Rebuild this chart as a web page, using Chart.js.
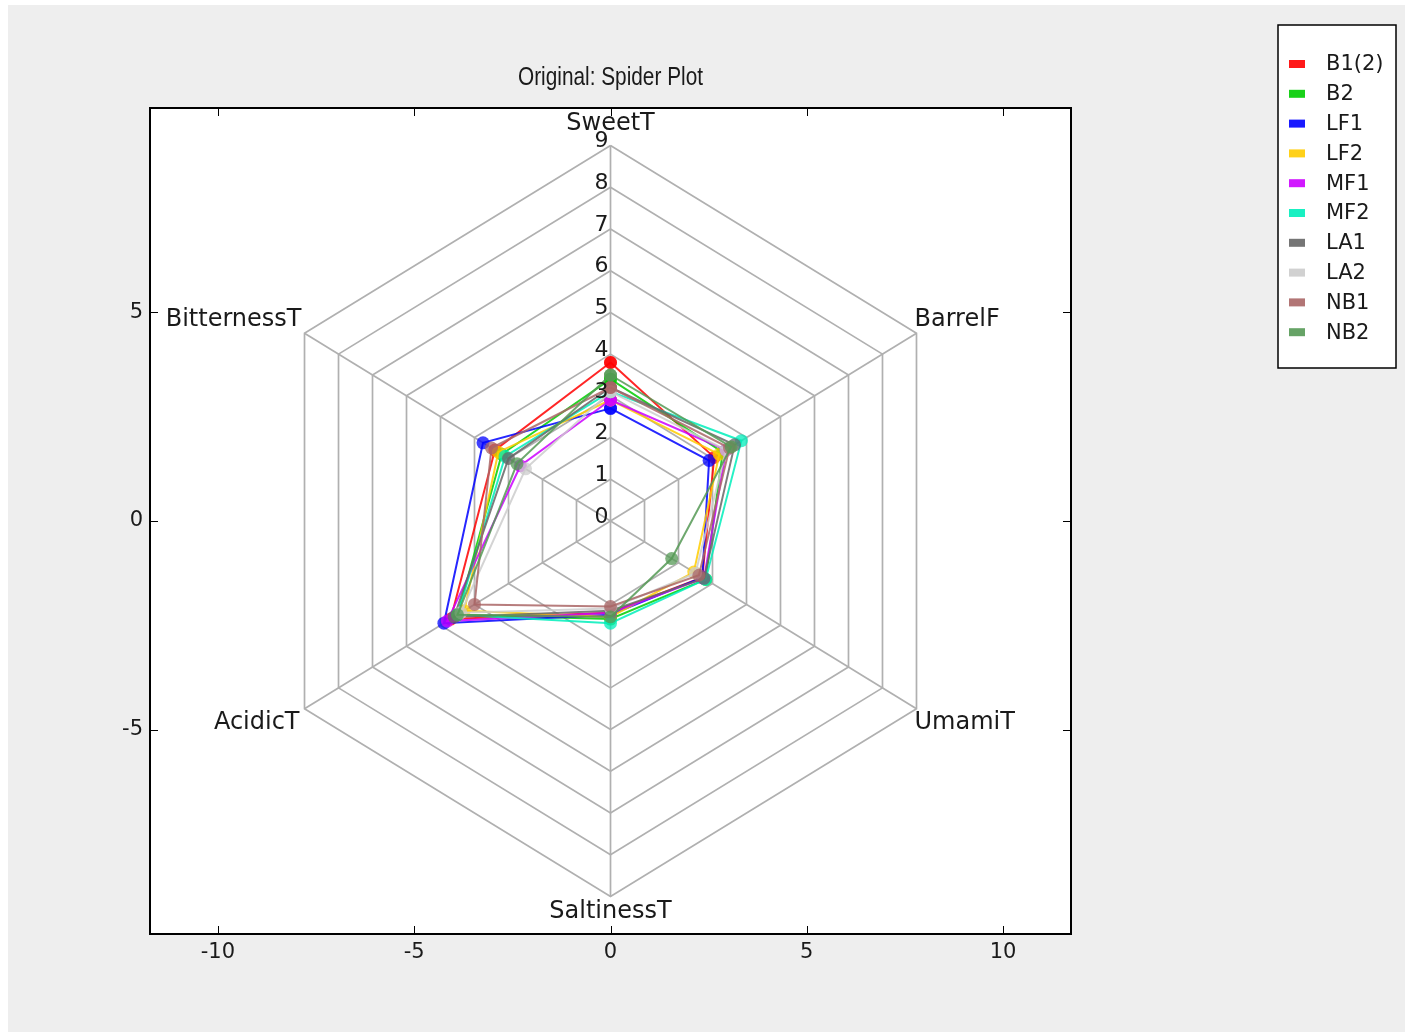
<!DOCTYPE html>
<html>
<head>
<meta charset="utf-8">
<title>Original: Spider Plot</title>
<script src="https://cdn.jsdelivr.net/npm/chart.js@4/dist/chart.umd.min.js"></script>
<style>
  html, body { margin: 0; padding: 0; background: #ffffff; }
  #wrap { position: absolute; left: 8px; top: 5px; width: 1397px; height: 1027px; background: #eeeeee; }
</style>
</head>
<body>
<div id="wrap"><canvas id="chart"></canvas></div>
<script>
// Taste attributes, one spoke each, clockwise from the top
const categories = ['SweetT', 'BarrelF', 'UmamiT', 'SaltinessT', 'AcidicT', 'BitternessT'];

// Panel scores per sample, in the same order as the categories
const b1_2 = [3.8, 3.05, 2.7, 2.2, 4.7, 3.4];
const b2   = [3.4, 3.3, 2.8, 2.35, 4.5, 3.2];
const lf1  = [2.7, 2.9, 2.7, 2.25, 4.9, 3.75];
const lf2  = [2.9, 3.2, 2.45, 2.3, 4.3, 3.3];
const mf1  = [2.9, 3.4, 2.75, 2.2, 4.8, 2.65];
const mf2  = [3.1, 3.85, 2.8, 2.45, 4.5, 3.1];
const la1  = [3.2, 3.65, 2.75, 2.15, 4.6, 3.0];
const la2  = [3.1, 3.4, 2.5, 2.1, 4.4, 2.5];
const nb1  = [3.2, 3.5, 2.6, 2.05, 4.0, 3.5];
const nb2  = [3.5, 3.55, 1.8, 2.3, 4.5, 2.75];

const seriesNames  = ['B1(2)', 'B2', 'LF1', 'LF2', 'MF1', 'MF2', 'LA1', 'LA2', 'NB1', 'NB2'];
const seriesValues = [b1_2, b2, lf1, lf2, mf1, mf2, la1, la2, nb1, nb2];
const seriesColors = ['255,0,0', '0,204,0', '0,0,255', '255,204,0', '204,0,255',
                      '0,238,187', '102,102,102', '204,204,204', '170,102,102', '85,153,85'];

// Ring levels of the web and the cartesian tick values
const ringLevels = [0, 1, 2, 3, 4, 5, 6, 7, 8, 9];
const xTicks = [-10, -5, 0, 5, 10];
const yTicks = [-5, 0, 5];

const maxRing = ringLevels[ringLevels.length - 1];
const FONT = '"DejaVu Sans", Verdana, sans-serif';

// spoke k points at 90 degrees minus k*60 degrees
function spokeAngle(k) { return (90 - k * 360 / categories.length) * Math.PI / 180; }
function toXY(r, k) { return { x: r * Math.cos(spokeAngle(k)), y: r * Math.sin(spokeAngle(k)) }; }
function ring(vals) {
  const pts = vals.map((r, k) => toXY(r, k));
  pts.push(pts[0]);
  return pts;
}

const datasets = [];

// web: hexagons and spokes
ringLevels.filter(l => l > 0).forEach(l => {
  datasets.push({
    label: '_ring' + l, data: ring(categories.map(() => l)), showLine: true,
    borderColor: '#b0b0b0', borderWidth: 1.7, pointRadius: 0, order: 100
  });
});
categories.forEach((c, k) => {
  datasets.push({
    label: '_spoke' + c, data: [toXY(0, k), toXY(maxRing, k)], showLine: true,
    borderColor: '#b0b0b0', borderWidth: 1.7, pointRadius: 0, order: 100
  });
});

// sample polygons
seriesNames.forEach((name, i) => {
  datasets.push({
    label: name, data: ring(seriesValues[i]), showLine: true,
    borderColor: 'rgba(' + seriesColors[i] + ',0.85)', borderWidth: 2,
    backgroundColor: 'rgba(' + seriesColors[i] + ',0.75)',
    pointRadius: 6.5, pointBorderWidth: 0, pointHoverRadius: 6.5,
    order: seriesNames.length - i
  });
});

const decorations = {
  id: 'decorations',
  beforeDraw(chart) {
    const { ctx, chartArea: a } = chart;
    ctx.save();
    ctx.fillStyle = '#ffffff';
    ctx.fillRect(a.left, a.top, a.right - a.left, a.bottom - a.top);
    ctx.restore();
  },
  afterDatasetsDraw(chart) {
    const { ctx, scales: { x, y } } = chart;
    ctx.save();
    ctx.fillStyle = '#1a1a1a';
    ctx.font = '22px ' + FONT;
    ctx.textAlign = 'center';
    ctx.textBaseline = 'middle';
    // ring values along the top spoke
    ringLevels.forEach(l => {
      ctx.fillText(String(l), x.getPixelForValue(0) - 9, y.getPixelForValue(l) - 4);
    });
    // attribute names at the outer ring
    const offs = [[0, -22, 'center'], [-2, -14, 'left'], [-2, 14, 'left'],
                  [0, 15, 'center'], [-5, 14, 'right'], [-3, -14, 'right']];
    ctx.font = '24px ' + FONT;
    categories.forEach((c, k) => {
      const p = toXY(maxRing, k);
      ctx.textAlign = offs[k][2];
      ctx.fillText(c, x.getPixelForValue(p.x) + offs[k][0], y.getPixelForValue(p.y) + offs[k][1]);
    });
    ctx.restore();
  },
  afterDraw(chart) {
    const { ctx, chartArea: a, scales: { x, y } } = chart;
    ctx.save();
    // frame
    ctx.strokeStyle = '#000000';
    ctx.lineWidth = 2;
    ctx.strokeRect(a.left, a.top, a.right - a.left, a.bottom - a.top);
    // inward tick marks on all four sides
    ctx.lineWidth = 1;
    ctx.beginPath();
    xTicks.forEach(v => {
      const px = Math.round(x.getPixelForValue(v)) + 0.5;
      ctx.moveTo(px, a.bottom); ctx.lineTo(px, a.bottom - 8);
      ctx.moveTo(px, a.top); ctx.lineTo(px, a.top + 8);
    });
    yTicks.forEach(v => {
      const py = Math.round(y.getPixelForValue(v)) + 0.5;
      ctx.moveTo(a.left, py); ctx.lineTo(a.left + 8, py);
      ctx.moveTo(a.right, py); ctx.lineTo(a.right - 8, py);
    });
    ctx.stroke();

    // title in a condensed face
    ctx.save();
    ctx.translate((a.left + a.right) / 2, a.top - 30);
    ctx.scale(0.8, 1);
    ctx.fillStyle = '#1a1a1a';
    ctx.font = '26px "Liberation Sans", Arial, sans-serif';
    ctx.textAlign = 'center';
    ctx.textBaseline = 'middle';
    ctx.fillText('Original: Spider Plot', 0, 0);
    ctx.restore();

    // legend box
    const lx = 1270, ly = 20, lw = 118, lh = 343;
    ctx.fillStyle = '#ffffff';
    ctx.fillRect(lx, ly, lw, lh);
    ctx.strokeStyle = '#000000';
    ctx.lineWidth = 1.5;
    ctx.strokeRect(lx, ly, lw, lh);
    ctx.font = '21px ' + FONT;
    ctx.textAlign = 'left';
    ctx.textBaseline = 'middle';
    seriesNames.forEach((name, i) => {
      const cy = ly + 39 + i * 29.8;
      ctx.fillStyle = 'rgba(' + seriesColors[i] + ',0.9)';
      ctx.fillRect(lx + 11, cy - 4, 16, 8);
      ctx.fillStyle = '#1a1a1a';
      ctx.fillText(name, lx + 48, cy + 1);
    });
    ctx.restore();
  }
};

new Chart(document.getElementById('chart'), {
  type: 'scatter',
  data: { datasets },
  options: {
    responsive: true,
    maintainAspectRatio: false,
    animation: false,
    layout: { padding: { left: 0, top: 103, right: 334, bottom: 58 } },
    plugins: { legend: { display: false }, tooltip: { enabled: false }, title: { display: false } },
    elements: { line: { tension: 0 } },
    scales: {
      x: {
        type: 'linear', min: -11.73, max: 11.73,
        afterBuildTicks: s => { s.ticks = xTicks.map(v => ({ value: v })); },
        afterFit: s => { s.height = 40; },
        grid: { display: false, drawTicks: false },
        border: { display: false },
        ticks: { color: '#1a1a1a', font: { family: FONT, size: 21 }, padding: 6, maxRotation: 0, autoSkip: false }
      },
      y: {
        type: 'linear', min: -9.9, max: 9.9,
        afterBuildTicks: s => { s.ticks = yTicks.map(v => ({ value: v })); },
        afterFit: s => { s.width = 142; },
        grid: { display: false, drawTicks: false },
        border: { display: false },
        ticks: { color: '#1a1a1a', font: { family: FONT, size: 21 }, padding: 7, autoSkip: false }
      }
    }
  },
  plugins: [decorations]
});
</script>
</body>
</html>
